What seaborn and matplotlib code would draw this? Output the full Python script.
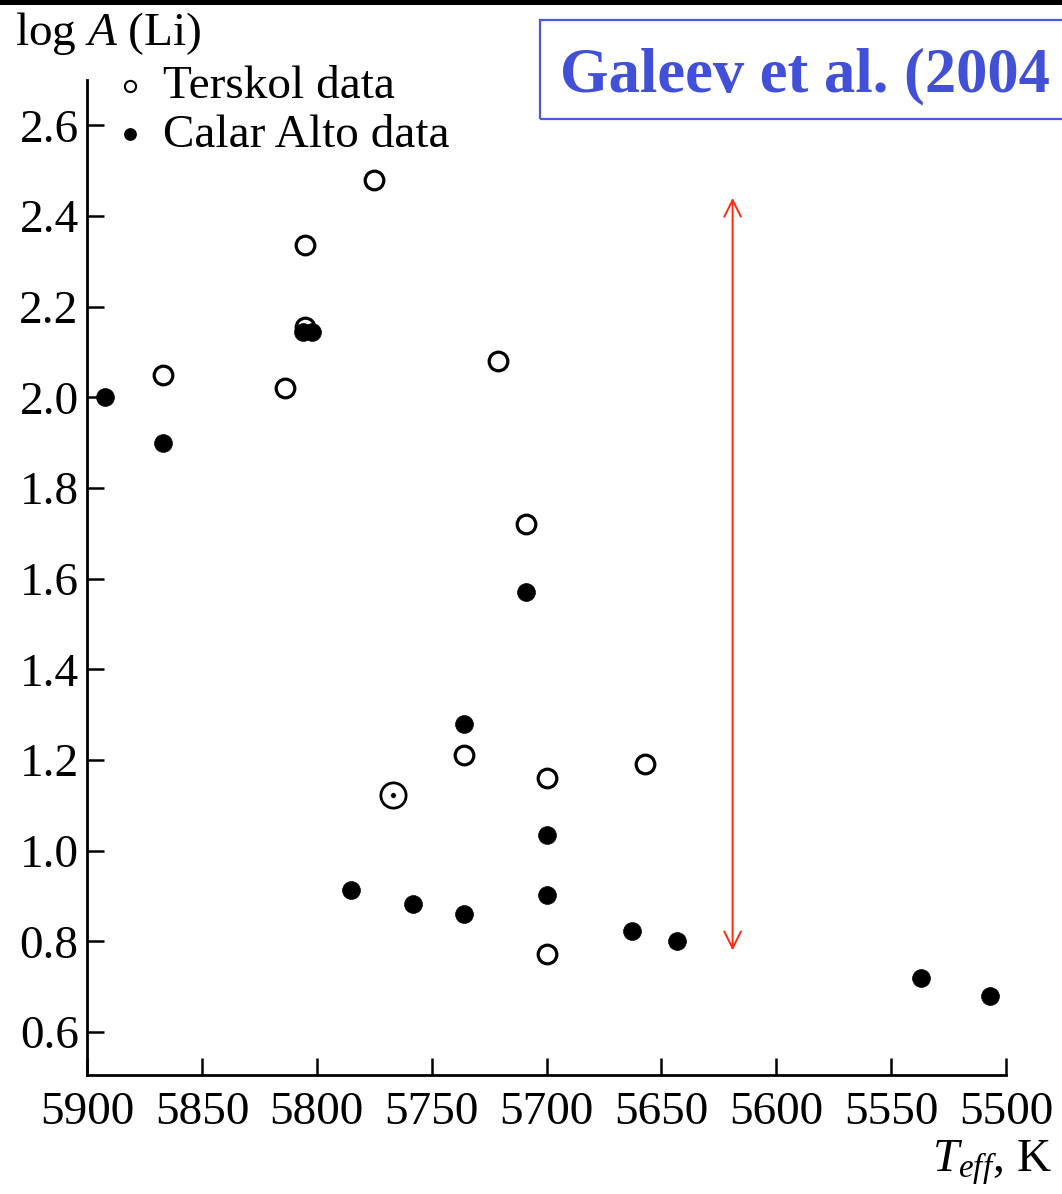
import matplotlib
matplotlib.use("Agg")
import matplotlib.pyplot as plt
from matplotlib.patches import Rectangle
import seaborn as sns
import pandas as pd

# ---- data ----
terskol_teff = [5867, 5805, 5775, 5805, 5814, 5721, 5709, 5736, 5700, 5657, 5700]
terskol_li = [2.05, 2.335, 2.48, 2.155, 2.02, 2.08, 1.72, 1.21, 1.16, 1.19, 0.773]

calar_teff = [5892, 5867, 5806, 5802, 5709, 5736, 5700, 5785, 5758, 5736, 5700, 5663, 5643, 5537, 5507]
calar_li = [2.0, 1.90, 2.145, 2.145, 1.57, 1.28, 1.035, 0.913, 0.882, 0.860, 0.902, 0.822, 0.800, 0.720, 0.680]

sun_teff = [5767]
sun_li = [1.123]

arrow_teff = 5619
arrow_range = [2.44, 0.78]

xticks = [5900, 5850, 5800, 5750, 5700, 5650, 5600, 5550, 5500]
yticks = [0.6, 0.8, 1.0, 1.2, 1.4, 1.6, 1.8, 2.0, 2.2, 2.4, 2.6]

sns.set_style("ticks")
plt.rcParams["font.family"] = ["Liberation Serif", "DejaVu Serif"]
plt.rcParams["mathtext.fontset"] = "custom"
plt.rcParams["mathtext.rm"] = "Liberation Serif"
plt.rcParams["mathtext.it"] = "Liberation Serif:italic"
plt.rcParams["text.color"] = "black"
plt.rcParams["xtick.color"] = "black"
plt.rcParams["ytick.color"] = "black"
plt.rcParams["axes.labelcolor"] = "black"

fig = plt.figure(figsize=(10.62, 11.94), dpi=100)
ax = fig.add_axes([87/1062, 1 - 1075/1194, (1006-87)/1062, (1075-80)/1194])

df_t = pd.DataFrame({"teff": terskol_teff, "li": terskol_li})
df_c = pd.DataFrame({"teff": calar_teff, "li": calar_li})
df_s = pd.DataFrame({"teff": sun_teff, "li": sun_li})

sns.scatterplot(data=df_t, x="teff", y="li", ax=ax, s=180, marker="o",
                facecolor="white", edgecolor="black", linewidth=2.3,
                label="Terskol data", zorder=3)
sns.scatterplot(data=df_c, x="teff", y="li", ax=ax, s=165, marker="o",
                color="black", edgecolor="black", linewidth=0.5,
                label="Calar Alto data", zorder=4)
sns.scatterplot(data=df_s, x="teff", y="li", ax=ax, s=330, marker="o",
                facecolor="white", edgecolor="black", linewidth=2.0,
                legend=False, zorder=3)
sns.scatterplot(data=df_s, x="teff", y="li", ax=ax, s=16, marker="o",
                color="black", legend=False, zorder=5)

ax.annotate("", xy=(arrow_teff, arrow_range[0]), xytext=(arrow_teff, arrow_range[1]),
            arrowprops=dict(arrowstyle="<->", color="#ff2a10", lw=1.4,
                            mutation_scale=30, shrinkA=0, shrinkB=0))

ax.set_xlim(5900, 5500)
ax.set_ylim(0.505, 2.70)
ax.set_xticks(xticks)
ax.set_yticks(yticks)
ax.set_xticklabels([str(t) for t in xticks])
ax.set_yticklabels([f"{t:.1f}" for t in yticks])
ax.tick_params(direction="in", length=12, width=1.8, labelsize=34, colors="black", pad=6)
ax.tick_params(axis="x", pad=12)
for side in ["top", "right"]:
    ax.spines[side].set_visible(False)
for side in ["left", "bottom"]:
    ax.spines[side].set_linewidth(2.0)
    ax.spines[side].set_color("black")
ax.set_xlabel("")
ax.set_ylabel("")

leg = ax.legend(loc="upper left", bbox_to_anchor=(116/1062, 1 - 65/1194),
                bbox_transform=fig.transFigure, frameon=False, fontsize=34,
                markerscale=0.6, handlelength=0.6, handletextpad=0.4,
                labelspacing=0.12, borderpad=0, borderaxespad=0)
for h in leg.legend_handles:
    h.set_linewidth(1.5)
for t in leg.get_texts():
    t.set_color("black")

fig.text(15/1062, 1 - 45/1194, "log $A$ (Li)", fontsize=34, ha="left", va="baseline")
fig.text(1052/1062, 1 - 1172/1194, "$T_{eff}$, K", fontsize=34, ha="right", va="baseline")

# title box (open on the right, as in the reference)
fig.patches.append(Rectangle((540/1062, 1 - 119/1194), 600/1062, 99/1194,
                             transform=fig.transFigure, fill=False,
                             edgecolor="#4a5ae0", linewidth=1.6))
fig.text(560/1062, 1 - 91/1194, "Galeev et al. (2004", fontsize=45,
         fontweight="bold", color="#4250d8", ha="left", va="baseline")

# black bar at the top
fig.patches.append(Rectangle((0, 1 - 5/1194), 1, 5/1194, transform=fig.transFigure,
                             facecolor="black", edgecolor="none"))

fig.savefig("out.png", dpi=100)
